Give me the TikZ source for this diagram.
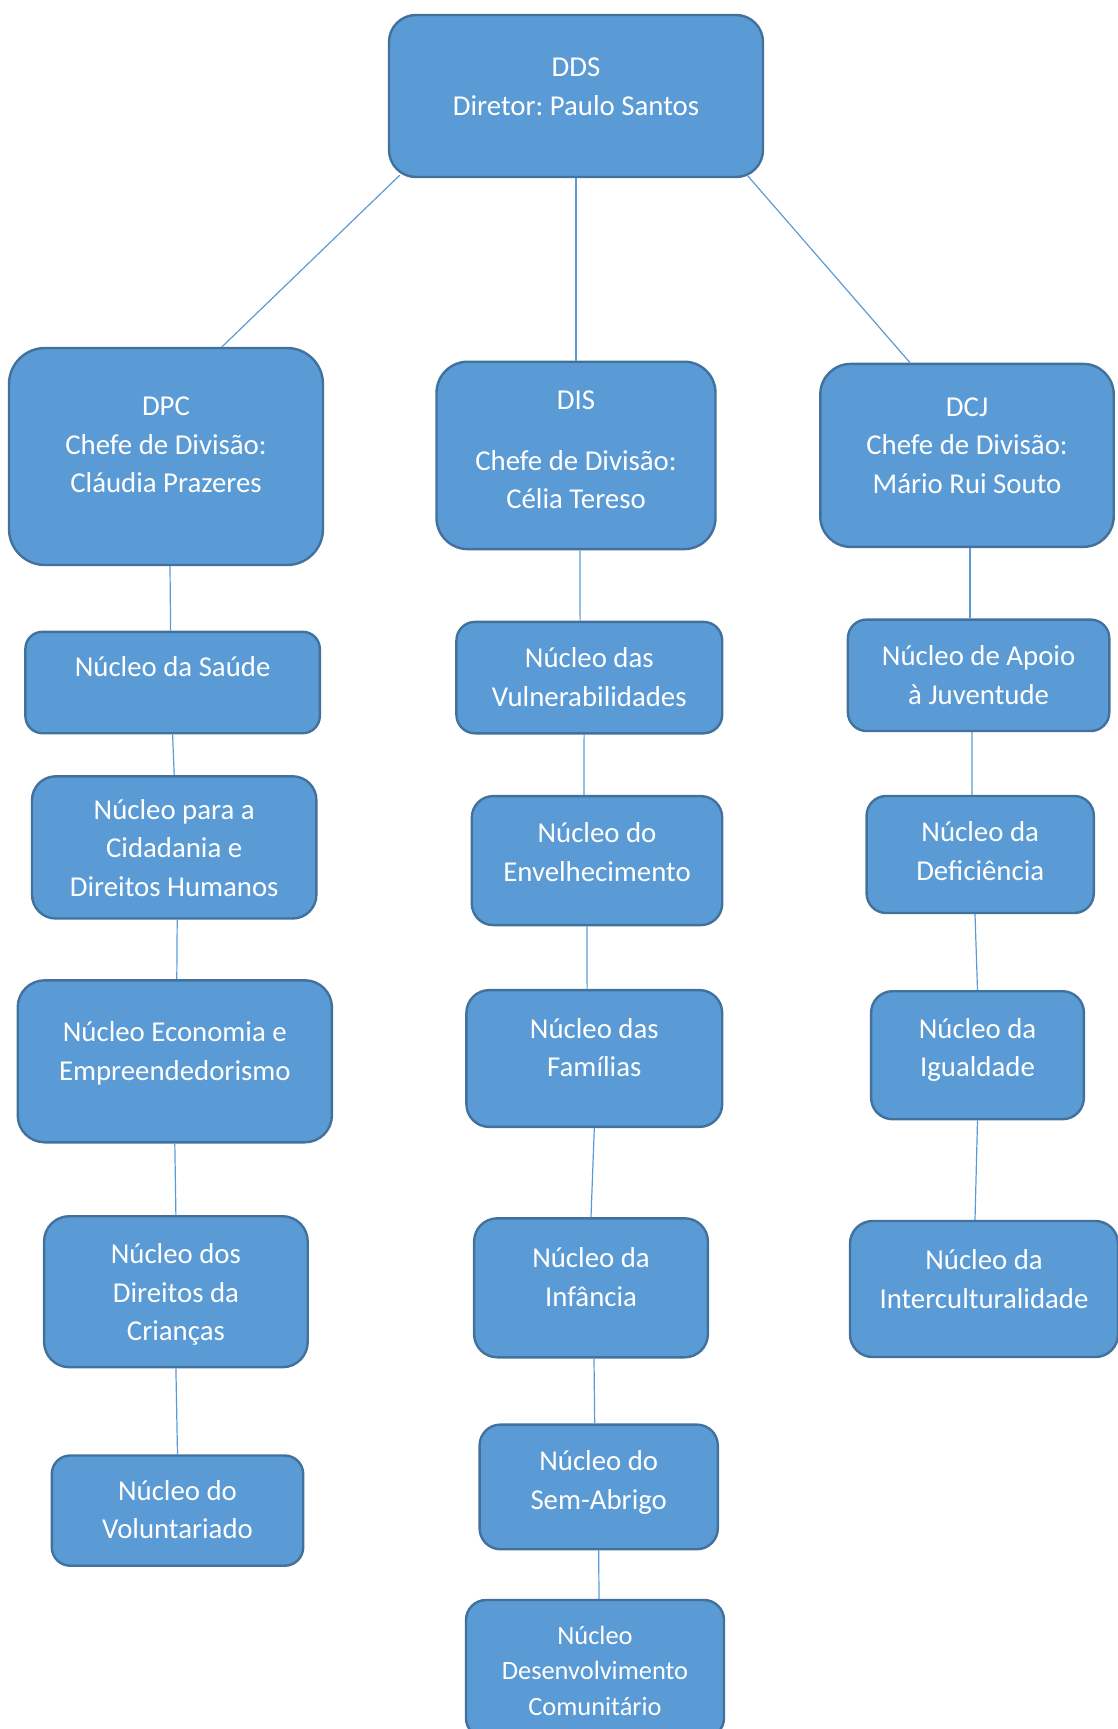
\documentclass[tikz,border=0pt]{standalone}
\usepackage{fontspec}
\setmainfont{Carlito}
\frenchspacing
\definecolor{unitfill}{HTML}{5B9BD5}
\definecolor{unitedge}{HTML}{41719C}
\newcommand{\unitfont}{\fontsize{14.4}{19.3}\selectfont}
\newcommand{\smallunitfont}{\fontsize{13.2}{17.9}\selectfont}
\newcommand{\unittext}[2][0pt]{\begin{tabular}{@{}c@{}}\rule{0pt}{16.3pt}#2\\[#1]\end{tabular}}
\tikzset{
  unit/.style={draw=unitedge, fill=unitfill, line width=1.2pt, text=white, font=\unitfont, inner sep=0pt},
  dims/.style n args={3}{minimum width=#1, minimum height=#2, rounded corners=#3},
  link/.style={draw=unitfill, line width=0.6pt},
}

\begin{document}
\begin{tikzpicture}[x=0.5pt, y=-0.5pt]
\clip (0,0) rectangle (1118,1729);

\node[unit, dims={187pt}{81pt}{13.5pt}] (DDS) at (576,96) {\unittext[10.5pt]{DDS\\Diretor: Paulo Santos}};

\node[unit, dims={157pt}{108.5pt}{18pt}] (DPC) at (166,456.5) {\unittext[12.7pt]{DPC\\Chefe de Divisão:\\Cláudia Prazeres}};
\node[unit, dims={139.5pt}{93.7pt}{15.6pt}] (DIS) at (576,455.4) {\unittext[6.6pt]{DIS\\[11pt]Chefe de Divisão:\\Célia Tereso}};
\node[unit, dims={146.7pt}{91.5pt}{15.2pt}] (DCJ) at (967,455.4) {\unittext[11pt]{DCJ\\Chefe de Divisão:\\Mário Rui Souto}};

% DPC
\node[unit, dims={147.2pt}{50.7pt}{8.5pt}] (Saude) at (172.6,682.5) {\unittext[16.5pt]{Núcleo da Saúde}};
\node[unit, dims={142.2pt}{71.1pt}{11.9pt}] (Cidadania) at (174.2,847.4) {\unittext{Núcleo para a\\Cidadania e\\Direitos Humanos}};
\node[unit, dims={157.1pt}{81pt}{13.5pt}] (Economia) at (174.8,1061.3) {\unittext[11pt]{Núcleo Economia e\\Empreendedorismo}};
\node[unit, dims={131.8pt}{75.5pt}{12.6pt}] (Criancas) at (175.9,1291.7) {\unittext{Núcleo dos\\Direitos da\\Crianças}};
\node[unit, dims={125.7pt}{55.1pt}{9.2pt}] (Voluntariado) at (177.5,1510.6) {\unittext[1.7pt]{Núcleo do\\Voluntariado}};

% DIS
\node[unit, dims={132.9pt}{55.7pt}{9.3pt}] (Vulner) at (589.3,677.6) {\unittext[1.1pt]{Núcleo das\\Vulnerabilidades}};
\node[unit, dims={125.2pt}{64.5pt}{10.7pt}] (Envelh) at (597,860.6) {\unittext[9.4pt]{Núcleo do\\Envelhecimento}};
\node[unit, dims={127.9pt}{68.4pt}{11.4pt}] (Familias) at (594.3,1058.5) {\unittext[11.6pt]{Núcleo das\\Famílias}};
\node[unit, dims={116.9pt}{69.5pt}{11.6pt}] (Infancia) at (591,1287.8) {\unittext[11.6pt]{Núcleo da\\Infância}};
\node[unit, dims={119.1pt}{62.3pt}{10.4pt}] (SemAbrigo) at (598.7,1486.9) {\unittext[7.2pt]{Núcleo do\\Sem-Abrigo}};
\node[unit, dims={129pt}{69pt}{10pt}, font=\smallunitfont] (Desenv) at (595,1669) {\unittext{Núcleo\\Desenvolvimento\\Comunitário}};

% DCJ
\node[unit, dims={130.7pt}{55.7pt}{9.3pt}] (Juventude) at (978.6,675.3) {\unittext[1.1pt]{Núcleo de Apoio\\à Juventude}};
\node[unit, dims={113.6pt}{58.5pt}{9.8pt}] (Deficiencia) at (980.2,854.5) {\unittext[3.9pt]{Núcleo da\\Deficiência}};
\node[unit, dims={106.4pt}{64pt}{10.7pt}] (Igualdade) at (977.5,1055.2) {\unittext[8.3pt]{Núcleo da\\Igualdade}};
\node[unit, dims={134pt}{68pt}{11.3pt}] (Intercult) at (984,1289) {\unittext[10.5pt]{Núcleo da\\Interculturalidade}};

\draw[link] ([shift={(6pt,1.5pt)}]DDS.south west) -- ([xshift=28pt]DPC.north);
\draw[link] (DDS.south) -- (DIS.north);
\draw[link] ([shift={(-8.5pt,1.5pt)}]DDS.south east) -- ([xshift=-28.5pt]DCJ.north);

\draw[link] ([xshift=2pt]DPC.south) -- ([xshift=-1pt]Saude.north);
\draw[link] (Saude.south) -- (Cidadania.north);
\draw[link] ([xshift=1.5pt]Cidadania.south) -- ([xshift=1pt]Economia.north);
\draw[link] (Economia.south) -- (Criancas.north);
\draw[link] (Criancas.south) -- (Voluntariado.north);

\draw[link] ([xshift=2pt]DIS.south) -- ([xshift=-4.6pt]Vulner.north);
\draw[link] ([xshift=-2.6pt]Vulner.south) -- ([xshift=-6.5pt]Envelh.north);
\draw[link] ([xshift=-5pt]Envelh.south) -- ([xshift=-3.6pt]Familias.north);
\draw[link] (Familias.south) -- (Infancia.north);
\draw[link] ([xshift=1.5pt]Infancia.south) -- ([xshift=-2pt]SemAbrigo.north);
\draw[link] (SemAbrigo.south) -- ([xshift=2pt]Desenv.north);

\draw[link] ([xshift=1.5pt]DCJ.south) -- ([xshift=-4.3pt]Juventude.north);
\draw[link] ([xshift=-3.3pt]Juventude.south) -- ([xshift=-4.1pt]Deficiencia.north);
\draw[link] ([xshift=-2.6pt]Deficiencia.south) -- (Igualdade.north);
\draw[link] (Igualdade.south) -- ([xshift=-4.5pt]Intercult.north);
\end{tikzpicture}
\end{document}
